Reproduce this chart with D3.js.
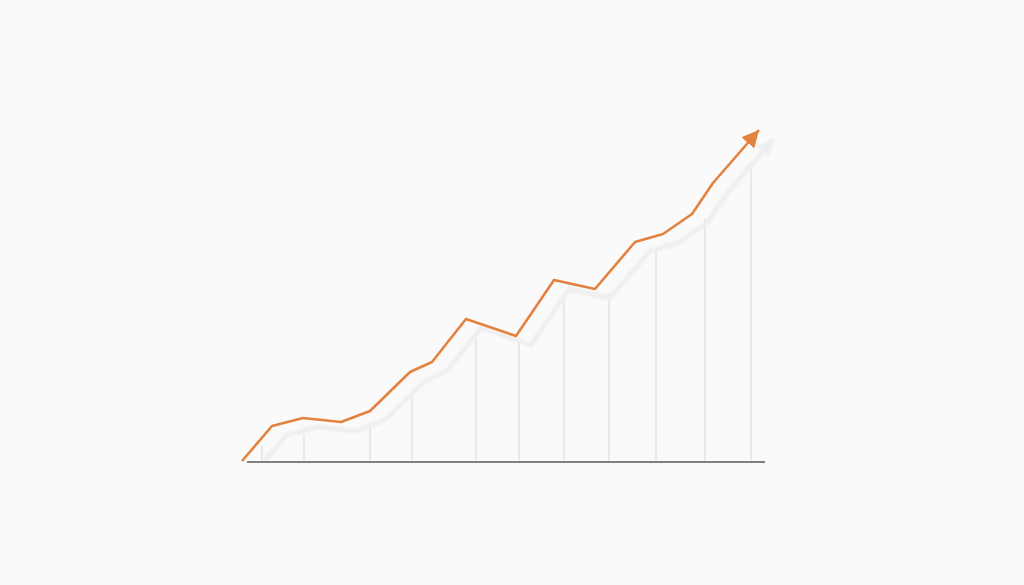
<!DOCTYPE html>
<html>
<head>
<meta charset="utf-8">
<script src="https://cdn.jsdelivr.net/npm/d3@7"></script>
<style>
  html, body { margin: 0; padding: 0; background: #fafafa; }
</style>
</head>
<body>
<div id="chart"></div>
<script>
// series values
var lineX = [0, 3.0, 6.1, 9.9, 12.8, 16.8, 19.0, 22.4, 27.4, 31.2, 35.3, 39.3, 42.1, 45.0, 47.1, 51.7];
var lineY = [0.1, 3.6, 4.4, 4.0, 5.1, 9.0, 10.0, 14.3, 12.6, 18.2, 17.3, 22.0, 22.8, 24.8, 27.9, 33.2];

// vertical drop lines
var dropX = [2.0, 6.2, 12.8, 17.0, 23.4, 27.7, 32.2, 36.7, 41.4, 46.3, 50.9];
var dropY = [1.7, 2.7, 3.9, 7.2, 12.4, 11.9, 16.9, 16.9, 21.4, 24.4, 29.9];

// baseline extent
var baseExtent = [0.5, 52.3];

var width = 1024, height = 585;

var svg = d3.select("#chart").append("svg")
    .attr("width", width)
    .attr("height", height);

svg.append("rect")
    .attr("width", width)
    .attr("height", height)
    .attr("fill", "#fafafa");

var x = d3.scaleLinear().domain([0, 52]).range([242, 762]);
var y = d3.scaleLinear().domain([0, 33]).range([462, 132]);

var points = lineX.map(function(d, i) { return [d, lineY[i]]; });

var line = d3.line()
    .x(function(d) { return x(d[0]); })
    .y(function(d) { return y(d[1]); });

var defs = svg.append("defs");

defs.append("filter")
    .attr("id", "blur")
  .append("feGaussianBlur")
    .attr("stdDeviation", 1.3);

// keep the shadow above the baseline
defs.append("clipPath")
    .attr("id", "above-base")
  .append("rect")
    .attr("x", 0)
    .attr("y", 0)
    .attr("width", width)
    .attr("height", y(0));

function arrow(id, color, size) {
  defs.append("marker")
      .attr("id", id)
      .attr("markerUnits", "userSpaceOnUse")
      .attr("viewBox", "0 0 10 10")
      .attr("refX", 10)
      .attr("refY", 5)
      .attr("markerWidth", size)
      .attr("markerHeight", size)
      .attr("orient", "auto")
    .append("path")
      .attr("d", "M0,0 L10,5 L0,10 Z")
      .attr("fill", color);
}
arrow("arrow-orange", "#e3823f", 17);
arrow("arrow-shadow", "#eeeeee", 17);

// drop lines
svg.selectAll("line.drop")
    .data(dropX)
  .enter().append("line")
    .attr("class", "drop")
    .attr("x1", function(d) { return x(d); })
    .attr("x2", function(d) { return x(d); })
    .attr("y1", y(0))
    .attr("y2", function(d, i) { return y(dropY[i]); })
    .attr("stroke", "#d9d9de")
    .attr("stroke-width", 1);

// shadow line
svg.append("g")
    .attr("clip-path", "url(#above-base)")
  .append("path")
    .datum(points)
    .attr("transform", "translate(15,9)")
    .attr("d", line)
    .attr("fill", "none")
    .attr("stroke", "#efefef")
    .attr("stroke-width", 5)
    .attr("stroke-linejoin", "round")
    .attr("filter", "url(#blur)")
    .attr("marker-end", "url(#arrow-shadow)");

// baseline
svg.append("line")
    .attr("x1", x(baseExtent[0]))
    .attr("x2", x(baseExtent[1]))
    .attr("y1", y(0))
    .attr("y2", y(0))
    .attr("stroke", "#808080")
    .attr("stroke-width", 1.8);

// main line
svg.append("path")
    .datum(points)
    .attr("d", line)
    .attr("fill", "none")
    .attr("stroke", "#e3823f")
    .attr("stroke-width", 2.6)
    .attr("stroke-linejoin", "round")
    .attr("marker-end", "url(#arrow-orange)");
</script>
</body>
</html>
